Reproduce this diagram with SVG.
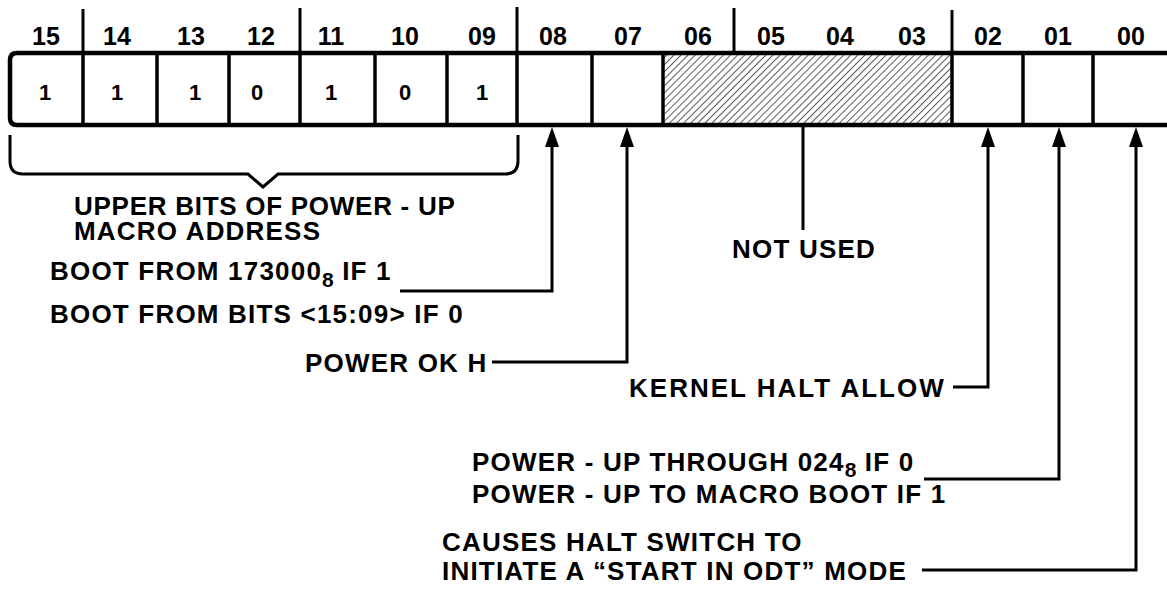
<svg xmlns="http://www.w3.org/2000/svg" width="1167" height="602" viewBox="0 0 1167 602">
<style>
text{font-family:"Liberation Sans",Arial,sans-serif;font-weight:bold;font-size:26px;fill:#000;letter-spacing:1.2px}
.bit{text-anchor:middle;font-size:25px;letter-spacing:0}
.val{text-anchor:middle;font-size:22px;letter-spacing:0}
.reg{fill:none;stroke:#000;stroke-width:4.5}
.div{stroke:#000;stroke-width:3.5}
.tick{stroke:#000;stroke-width:3}
.conn{fill:none;stroke:#000;stroke-width:3}
.sub{font-size:21px;letter-spacing:0}
</style>
<defs>
<marker id="arr" markerWidth="20" markerHeight="14" refX="0" refY="7" orient="auto" markerUnits="userSpaceOnUse" viewBox="0 0 20 14">
<path d="M0 0 L20 7 L0 14 Z" fill="#000"/>
</marker>
<pattern id="hatch" patternUnits="userSpaceOnUse" width="5" height="5" patternTransform="rotate(45)">
<line x1="0" y1="0" x2="0" y2="5" stroke="#000" stroke-width="1.3"/>
</pattern>
</defs>
<g id="register">
<rect x="663" y="53" width="289" height="72" fill="url(#hatch)"/>
<path class="reg" d="M1167 53 H17 Q10 53 10 60 V118 Q10 125 17 125 H1167"/>
<g class="div">
<line x1="83" y1="53" x2="83" y2="125"/>
<line x1="157" y1="53" x2="157" y2="125"/>
<line x1="229" y1="53" x2="229" y2="125"/>
<line x1="300" y1="53" x2="300" y2="125"/>
<line x1="375" y1="53" x2="375" y2="125"/>
<line x1="447" y1="53" x2="447" y2="125"/>
<line x1="517" y1="53" x2="517" y2="125"/>
<line x1="592" y1="53" x2="592" y2="125"/>
<line x1="663" y1="53" x2="663" y2="125"/>
<line x1="952" y1="53" x2="952" y2="125"/>
<line x1="1023" y1="53" x2="1023" y2="125"/>
<line x1="1093" y1="53" x2="1093" y2="125"/>
</g>
<g class="tick">
<line x1="83" y1="9" x2="83" y2="53"/>
<line x1="300" y1="8" x2="300" y2="53"/>
<line x1="517" y1="7" x2="517" y2="53"/>
<line x1="734" y1="8" x2="734" y2="53"/>
<line x1="952" y1="10" x2="952" y2="53"/>
</g>
<g id="bitnums">
<text class="bit" x="46" y="45">15</text>
<text class="bit" x="117" y="45">14</text>
<text class="bit" x="191" y="45">13</text>
<text class="bit" x="261" y="45">12</text>
<text class="bit" x="331" y="45">11</text>
<text class="bit" x="405" y="45">10</text>
<text class="bit" x="482" y="45">09</text>
<text class="bit" x="553" y="45">08</text>
<text class="bit" x="628" y="45">07</text>
<text class="bit" x="698" y="45">06</text>
<text class="bit" x="771" y="45">05</text>
<text class="bit" x="840" y="45">04</text>
<text class="bit" x="912" y="45">03</text>
<text class="bit" x="988" y="45">02</text>
<text class="bit" x="1058" y="45">01</text>
<text class="bit" x="1131" y="45">00</text>
</g>
<g id="values">
<text class="val" x="45" y="100">1</text>
<text class="val" x="117" y="100">1</text>
<text class="val" x="195" y="100">1</text>
<text class="val" x="257" y="100">0</text>
<text class="val" x="331" y="100">1</text>
<text class="val" x="405" y="100">0</text>
<text class="val" x="482" y="100">1</text>
</g>
</g>
<g id="connectors">
<path class="conn" d="M10 135 V161 Q10 174 23 174 H248 L263 187 L278 174 H505 Q518 174 518 161 V135"/>
<path class="conn" d="M400 291 H552 V147" marker-end="url(#arr)"/>
<path class="conn" d="M492 362 H627 V147" marker-end="url(#arr)"/>
<path class="conn" d="M803 125 V230"/>
<path class="conn" d="M953 387 H988 V147" marker-end="url(#arr)"/>
<path class="conn" d="M924 479 H1059 V147" marker-end="url(#arr)"/>
<path class="conn" d="M922 570 H1136 V147" marker-end="url(#arr)"/>
</g>
<g id="label-upper">
<text x="74" y="215" textLength="382" lengthAdjust="spacing">UPPER BITS OF POWER - UP</text>
<text x="74" y="240">MACRO ADDRESS</text>
</g>
<g id="label-08">
<text x="50" y="280">BOOT FROM 173000<tspan class="sub" dy="7">8</tspan><tspan dy="-7"> IF 1</tspan></text>
<text x="50" y="323">BOOT FROM BITS &lt;15:09&gt; IF 0</text>
</g>
<g id="label-07">
<text x="305" y="372">POWER OK H</text>
</g>
<g id="label-notused">
<text x="732" y="258">NOT USED</text>
</g>
<g id="label-02">
<text x="629" y="397" textLength="316" lengthAdjust="spacing">KERNEL HALT ALLOW</text>
</g>
<g id="label-01">
<text x="472" y="471">POWER - UP THROUGH 024<tspan class="sub" dy="6">8</tspan><tspan dy="-6"> IF 0</tspan></text>
<text x="472" y="503">POWER - UP TO MACRO BOOT IF 1</text>
</g>
<g id="label-00">
<text x="442" y="551">CAUSES HALT SWITCH TO</text>
<text x="442" y="580">INITIATE A “START IN ODT” MODE</text>
</g>
</svg>
